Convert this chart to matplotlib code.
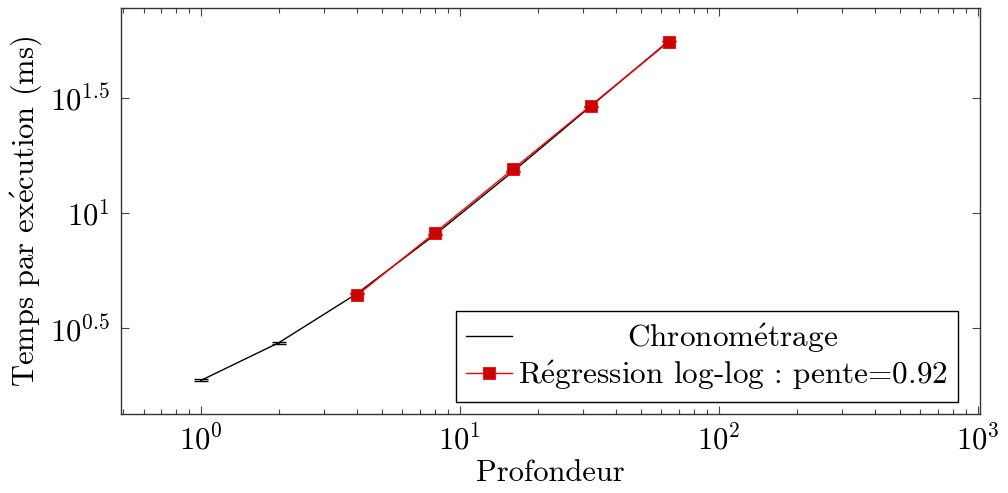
import numpy as np
import matplotlib
matplotlib.use("Agg")
import matplotlib.pyplot as plt
from matplotlib.ticker import LogLocator, FixedLocator, FixedFormatter, NullLocator

plt.rcParams["font.family"] = ["cmr10", "DejaVu Serif"]
plt.rcParams["mathtext.fontset"] = "cm"
plt.rcParams["axes.formatter.use_mathtext"] = True

E = r"$\mathrm{\acute{e}}$"  # é drawn with the cm math font

# data
profondeur = [1, 2, 4, 8, 16, 32, 64]
temps = [1.88, 2.74, 4.47, 8.04, 15.1, 29.0, 55.6]
temps_err = [0.02, 0.03, 0.03, 0.05, 0.08, 0.1, 0.15]
prof_reg = [4, 8, 16, 32, 64]
temps_reg = [4.39, 8.2, 15.45, 29.2, 55.2]
yticks = [10**0.5, 10**1, 10**1.5]
ytick_labels = [r"$10^{0.5}$", r"$10^{1}$", r"$10^{1.5}$"]

fig = plt.figure(figsize=(10.08, 4.93), dpi=100)
ax = fig.add_axes([0.12, 0.16, 0.852, 0.824])

ax.errorbar(profondeur, temps, yerr=temps_err, color="black", lw=1.0,
            capsize=5, capthick=1.0, elinewidth=1.0, zorder=2)
reg, = ax.plot(prof_reg, temps_reg, color="red", lw=1.0, marker="s", markersize=8.5,
               markerfacecolor="#cc0000", markeredgecolor="red", markeredgewidth=0.6,
               zorder=3)

ax.set_xscale("log")
ax.set_yscale("log")
ax.set_xlim(0.491, 1018)
ax.set_ylim(10**0.128, 10**1.889)

ax.yaxis.set_major_locator(FixedLocator(yticks))
ax.yaxis.set_major_formatter(FixedFormatter(ytick_labels))
ax.yaxis.set_minor_locator(NullLocator())
ax.xaxis.set_major_locator(LogLocator(base=10))
ax.xaxis.set_minor_locator(LogLocator(base=10, subs=np.arange(2, 10)))

ax.tick_params(which="both", direction="in", top=True, right=True,
               labelsize=22, color="#444444", width=0.8)
ax.tick_params(which="major", length=6, pad=8)
ax.tick_params(which="minor", length=3.5)
for s in ax.spines.values():
    s.set_linewidth(1.0)
    s.set_color("#333333")

ax.set_xlabel("Profondeur", fontsize=22, labelpad=2)
ax.set_ylabel("Temps par ex" + E + "cution (ms)", fontsize=22, labelpad=4)

chrono = plt.Line2D([], [], color="black", lw=1.0)
leg = ax.legend([chrono, reg],
                ["Chronom" + E + "trage", "R" + E + "gression log-log : pente=0.92"],
                loc="lower right", bbox_to_anchor=(0.9744, 0.0296),
                borderaxespad=0, fontsize=22.5, frameon=True, fancybox=False,
                framealpha=1, edgecolor="black", handlelength=1.45,
                handletextpad=0.2, labelspacing=0.1, borderpad=0.33)
leg.get_frame().set_linewidth(1.0)

# centre the entries like pgfplots does
fig.canvas.draw()
r = fig.canvas.get_renderer()
texts = leg.get_texts()
w = [t.get_window_extent(r).width for t in texts]
texts[0].set_position(((max(w) - w[0]) / 2, 0))

fig.savefig("out.png", dpi=100)
